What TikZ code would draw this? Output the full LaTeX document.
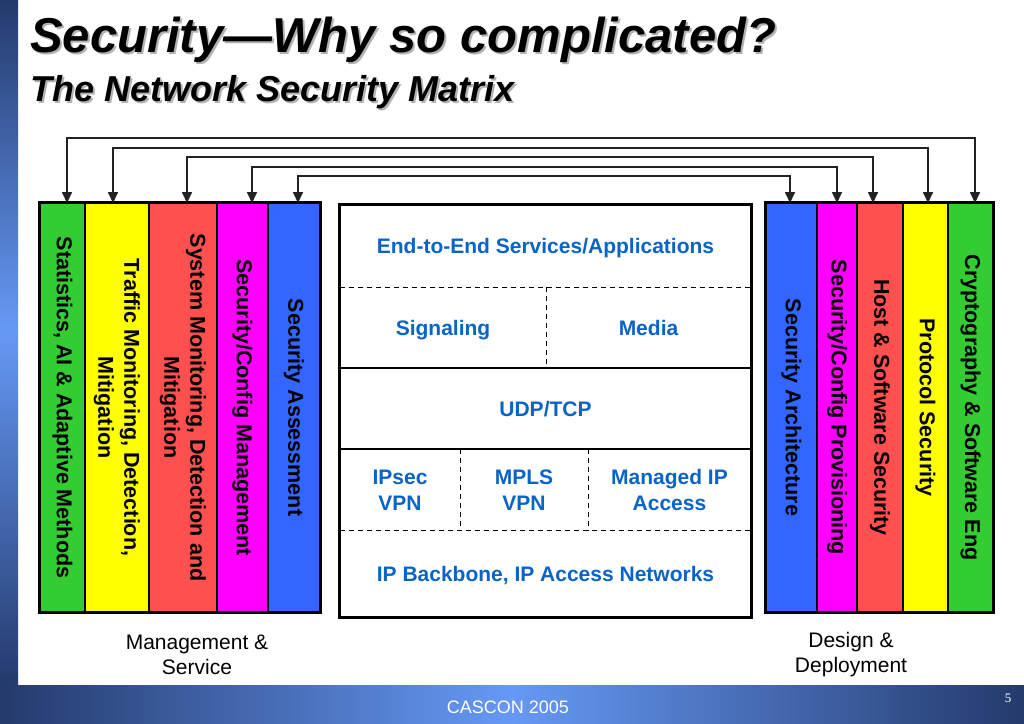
\documentclass[tikz,border=0pt]{standalone}
\usepackage{fontspec}
\setmainfont{Liberation Sans}
\newfontfamily\serifnum{Liberation Serif}
\usetikzlibrary{arrows.meta}
\definecolor{cgreen}{HTML}{33CC33}
\definecolor{cyellow}{HTML}{FFFF00}
\definecolor{cred}{HTML}{FF5050}
\definecolor{cmag}{HTML}{FF00FF}
\definecolor{cblue}{HTML}{3366FF}
\definecolor{ctext}{HTML}{0A64C8}
\definecolor{navy}{HTML}{243A6C}
\definecolor{lightnavy}{HTML}{6699F5}
\definecolor{connector}{HTML}{222222}
\tikzset{
  colbox/.style={draw=black, line width=1.2pt, minimum height=409, inner sep=0pt},
  coltext/.style={rotate=-90, align=center, font=\fontsize{21.5}{26}\selectfont\bfseries, text=black, inner sep=0pt},
  frame/.style={line width=3pt, draw=black},
  cell/.style={minimum width=411, inner sep=0pt, font=\fontsize{21}{26}\selectfont\bfseries, text=ctext, align=center},
  oneline/.style={text height=15pt, text depth=0pt},
  cut/.style={line width=1.2pt, dash pattern=on 5pt off 4pt},
  solidcut/.style={line width=1.5pt},
  link/.style={draw=connector, line width=1.7pt, {Triangle[length=11pt,width=10pt]}-{Triangle[length=11pt,width=10pt]}},
  caption/.style={font=\fontsize{21}{25}\selectfont, align=center, text=black},
  shadowtext/.style={text=black!30, inner sep=0pt, anchor=base west},
}
\begin{document}
\begin{tikzpicture}[x=1pt,y=-1pt]
\useasboundingbox (0,0) rectangle (1024,723);
% background
\fill[white] (0,0) rectangle (1024,723);
\shade[top color=navy, bottom color=lightnavy] (0,0) rectangle (18,330);
\shade[top color=lightnavy, bottom color=navy] (0,330) rectangle (18,686);
\shade[left color=navy, right color=lightnavy] (0,685) rectangle (512,723);
\shade[left color=lightnavy, right color=navy] (512,685) rectangle (1024,723);
% title
\node[shadowtext, font=\fontsize{49}{52}\selectfont\bfseries\itshape] at (32,54) {Security—Why so complicated?};
\node[anchor=base west, inner sep=0pt, font=\fontsize{49}{52}\selectfont\bfseries\itshape] (title) at (30,52) {Security—Why so complicated?};
\node[shadowtext, font=\fontsize{36}{40}\selectfont\bfseries\itshape] at (32,103) {The Network Security Matrix};
\node[anchor=base west, inner sep=0pt, font=\fontsize{36}{40}\selectfont\bfseries\itshape] (subtitle) at (30,101) {The Network Security Matrix};
% left block
\node[colbox, fill=cgreen, minimum width=45] (l1) at (62.5,407.5) {};
\node[colbox, fill=cyellow, minimum width=64] (l2) at (117,407.5) {};
\node[colbox, fill=cred, minimum width=68] (l3) at (183,407.5) {};
\node[colbox, fill=cmag, minimum width=51] (l4) at (242.5,407.5) {};
\node[colbox, fill=cblue, minimum width=52] (l5) at (294,407.5) {};
\draw[frame] (l1.north west) rectangle (l5.south east);
\node[coltext] (t1) at (l1) {Statistics, AI \& Adaptive Methods};
\node[coltext] (t2) at (l2) {Traffic Monitoring, Detection,\\Mitigation};
\node[coltext] (t3) at (l3) {System Monitoring, Detection and\\Mitigation};
\node[coltext] (t4) at (l4) {Security/Config Management};
\node[coltext] (t5) at (l5) {Security Assessment};
% right block
\node[colbox, fill=cblue, minimum width=51] (r1) at (791.5,407.5) {};
\node[colbox, fill=cmag, minimum width=40] (r2) at (837,407.5) {};
\node[colbox, fill=cred, minimum width=46] (r3) at (880,407.5) {};
\node[colbox, fill=cyellow, minimum width=45] (r4) at (925.5,407.5) {};
\node[colbox, fill=cgreen, minimum width=45] (r5) at (970.5,407.5) {};
\draw[frame] (r1.north west) rectangle (r5.south east);
\node[coltext] (u1) at (r1) {Security Architecture};
\node[coltext] (u2) at (r2) {Security/Config Provisioning};
\node[coltext] (u3) at (r3) {Host \& Software Security};
\node[coltext] (u4) at (r4) {Protocol Security};
\node[coltext] (u5) at (r5) {Cryptography \& Software Eng};
% connectors
\coordinate (ltop1) at (67,203);
\coordinate (ltop2) at (113,203);
\coordinate (ltop3) at (187,203);
\coordinate (ltop4) at (252,203);
\coordinate (ltop5) at (298,203);
\coordinate (rtop1) at (790,203);
\coordinate (rtop2) at (837,203);
\coordinate (rtop3) at (873,203);
\coordinate (rtop4) at (928,203);
\coordinate (rtop5) at (975,203);
\draw[link] (ltop1) -- (67,138) -- (975,138) -- (rtop5);
\draw[link] (ltop2) -- (113,148) -- (928,148) -- (rtop4);
\draw[link] (ltop3) -- (187,157) -- (873,157) -- (rtop3);
\draw[link] (ltop4) -- (252,167) -- (837,167) -- (rtop2);
\draw[link] (ltop5) -- (298,176) -- (790,176) -- (rtop1);
% centre block
\node[cell, oneline, minimum height=82] (e2e) at (545.5,246) {End-to-End Services/Applications};
\node[cell, oneline, minimum width=206, minimum height=81] (sig) at (443,327.5) {Signaling};
\node[cell, oneline, minimum width=205, minimum height=81] (med) at (648.5,327.5) {Media};
\node[cell, oneline, minimum height=81] (udp) at (545.5,408.5) {UDP/TCP};
\node[cell, minimum width=120, minimum height=82] (ipsec) at (400,490) {IPsec\\VPN};
\node[cell, minimum width=128, minimum height=82] (mpls) at (524,490) {MPLS\\VPN};
\node[cell, minimum width=163, minimum height=82] (mip) at (669.5,490) {Managed IP\\Access};
\node[cell, oneline, minimum height=86] (bb) at (545.5,574) {IP Backbone, IP Access Networks};
\draw[cut] (e2e.south west) -- (e2e.south east);
\draw[cut] (sig.north east) -- (sig.south east);
\draw[solidcut] (sig.south west) -- (med.south east);
\draw[solidcut] (udp.south west) -- (udp.south east);
\draw[cut] (ipsec.north east) -- (ipsec.south east);
\draw[cut] (mpls.north east) -- (mpls.south east);
\draw[cut] (bb.north west) -- (bb.north east);
\draw[frame] (e2e.north west) rectangle (bb.south east);
% captions
\node[caption] (mgmt) at (197,655) {Management \&\\Service};
\node[caption] (design) at (851,655) {Design \&\\Deployment};
% footer
\node[text=white, font=\fontsize{18}{20}\selectfont] (footer) at (508,707) {CASCON 2005};
\node[text=white, font=\fontsize{13}{15}\selectfont\serifnum] (pagenum) at (1008,698) {5};
\end{tikzpicture}
\end{document}
